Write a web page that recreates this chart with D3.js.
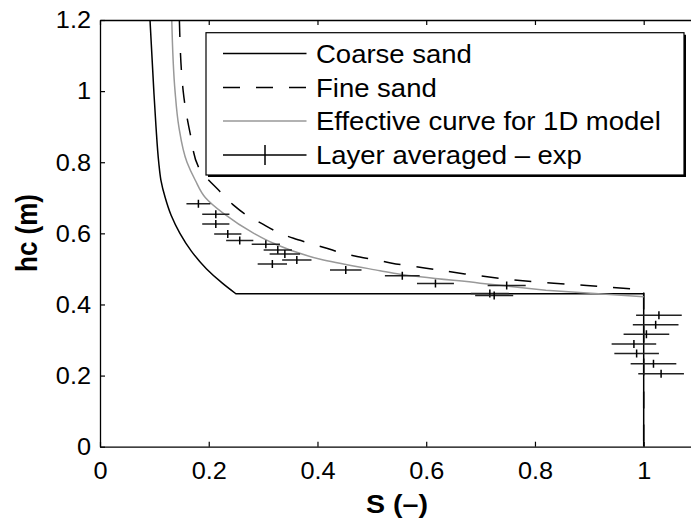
<!DOCTYPE html>
<html><head><meta charset="utf-8">
<script src="https://cdn.jsdelivr.net/npm/d3@7"></script>
<style>
html,body{margin:0;padding:0;background:#fff;}
svg{display:block;font-family:"Liberation Sans",Arial,Helvetica,sans-serif;}
</style></head>
<body><svg id="chart" width="691" height="521"></svg>
<script>
// ---- data ----
const coarseS  = [0.092,0.099,0.103,0.108,0.112,0.120,0.131,0.147,0.168,0.196,0.225,0.250,1.000,1.000];
const coarseHc = [1.20, 1.00, 0.90, 0.80, 0.75, 0.70, 0.65, 0.60, 0.55, 0.50, 0.46, 0.43, 0.43, 0.00];

const fineS  = [0.146,0.153,0.166,0.181,0.221,0.245,0.270,0.297,0.325,0.356,0.386,0.417,0.447,0.475,0.509,0.537,0.600,0.671,0.733,0.796,0.862,0.923,0.987,1.000,1.000];
const fineHc = [1.20, 1.00, 0.88, 0.787,0.717,0.680,0.651,0.628,0.605,0.586,0.572,0.558,0.544,0.534,0.525,0.516,0.502,0.486,0.474,0.464,0.457,0.450,0.443,0.440,0.000];

const effS  = [0.132,0.138,0.145,0.160,0.175,0.194,0.227,0.283,0.319,0.411,0.515,0.552,0.699,0.820,1.000];
const effHc = [1.20, 1.00, 0.90, 0.80, 0.75, 0.70, 0.656,0.600,0.572,0.525,0.495,0.485,0.460,0.440,0.422];

const expS   = [0.181,0.213,0.213,0.235,0.257,0.305,0.327,0.340,0.362,0.317,0.452,0.556,0.617,0.748,0.717,0.725,1.028,1.022,1.005,0.982,0.987,1.018,1.032];
const expHc  = [0.683,0.654,0.626,0.598,0.580,0.569,0.553,0.542,0.525,0.514,0.497,0.481,0.459,0.453,0.431,0.425,0.370,0.343,0.316,0.289,0.262,0.233,0.205];
const expErr = [0.022,0.025,0.025,0.025,0.025,0.026,0.026,0.028,0.027,0.027,0.029,0.032,0.034,0.035,0.035,0.035,0.042,0.042,0.042,0.041,0.041,0.042,0.042];

const xTicks = [0,0.2,0.4,0.6,0.8,1];
const xTickLabels = ["0","0.2","0.4","0.6","0.8","1"];
const yTicks = [0,0.2,0.4,0.6,0.8,1,1.2];
const yTickLabels = ["0","0.2","0.4","0.6","0.8","1","1.2"];
const legendLabels = ["Coarse sand","Fine sand","Effective curve for 1D model","Layer averaged \u2013 exp"];

// ---- layout ----
const L = 100, R = 691, T = 20, B = 446.7;
const SX = 1.1; // horizontal text stretch of the reference
const svg = d3.select("#chart");
const x = d3.scaleLinear().domain([0, (R - L) / 543.7]).range([L, R]);
const y = d3.scaleLinear().domain([0, 1.2]).range([B, T]);

svg.append("defs").append("clipPath").attr("id","clip")
  .append("rect").attr("x",L).attr("y",T).attr("width",R-L).attr("height",B-T);

const plot = svg.append("g").attr("clip-path","url(#clip)");
const smooth = d3.line().x(d => x(d[0])).y(d => y(d[1])).curve(d3.curveMonotoneY);
const straight = d3.line().x(d => x(d[0])).y(d => y(d[1]));

// draw a curve: smooth part while hc strictly decreases and S < 1, then straight segments
function drawCurve(S, H, color, dash) {
  const pts = S.map((s,i)=>[s,H[i]]);
  let k = pts.findIndex((p,i)=> i>0 && (p[1] >= pts[i-1][1] || p[0] >= 1));
  if (k < 0) k = pts.length;
  const curved = pts.slice(0, k);
  const rest = pts.slice(k - 1);
  const d = smooth(curved) + (rest.length > 1 ? straight(rest).replace(/^M[^L]*/, "") : "");
  const p = plot.append("path").attr("d", d).attr("fill","none").attr("stroke",color).attr("stroke-width",1.5);
  if (dash) p.attr("stroke-dasharray", dash);
}
drawCurve(coarseS, coarseHc, "#000", null);
drawCurve(fineS, fineHc, "#000", "17,16");
drawCurve(effS, effHc, "#999", null);

const eg = plot.append("g");
expS.forEach((s,i) => {
  eg.append("line").attr("x1",x(s-expErr[i])).attr("x2",x(s+expErr[i]))
    .attr("y1",y(expHc[i])).attr("y2",y(expHc[i]))
    .attr("stroke","#222").attr("stroke-width",1.5);
  eg.append("line").attr("x1",x(s)).attr("x2",x(s))
    .attr("y1",y(expHc[i])-4).attr("y2",y(expHc[i])+4)
    .attr("stroke","#000").attr("stroke-width",1.5);
});

// ---- axes ----
const fmtX = d => xTickLabels[xTicks.indexOf(d)];
const fmtY = d => yTickLabels[yTicks.indexOf(d)];
const ax = svg.append("g").attr("transform",`translate(0,${B})`)
  .call(d3.axisBottom(x).tickValues(xTicks).tickFormat(fmtX).tickSize(-5).tickSizeOuter(0).tickPadding(16));
const ay = svg.append("g").attr("transform",`translate(${L},0)`)
  .call(d3.axisLeft(y).tickValues(yTicks).tickFormat(fmtY).tickSize(-5).tickSizeOuter(0).tickPadding(9));
const at = svg.append("g").attr("transform",`translate(0,${T})`)
  .call(d3.axisTop(x).tickValues(xTicks).tickFormat("").tickSize(-5).tickSizeOuter(0));
[ax,ay,at].forEach(g => {
  g.selectAll("path.domain").attr("stroke","#000").attr("stroke-width",1.3);
  g.selectAll(".tick line").attr("stroke","#000").attr("stroke-width",1.2);
  g.selectAll("text").attr("fill","#000").attr("font-size","23px")
    .attr("font-family","'Liberation Sans',Arial,sans-serif")
    .attr("transform",`scale(${SX},1)`);
});
ay.selectAll("text").attr("dy","0.34em").attr("x",-9/SX);

// ---- titles ----
svg.append("text").attr("transform",`translate(397,513) scale(${SX},1)`)
  .attr("text-anchor","middle").attr("font-size","26px").attr("font-weight","bold").text("S (\u2013)");
svg.append("text").attr("transform",`translate(37,233) scale(${SX},1) rotate(-90)`)
  .attr("text-anchor","middle").attr("font-size","26px").attr("font-weight","bold").text("hc (m)");

// ---- legend ----
const lg = svg.append("g");
const lx0 = 206, ly0 = 32.7, lx1 = 684, ly1 = 175;
lg.append("rect").attr("x",lx0).attr("y",ly0).attr("width",lx1-lx0).attr("height",ly1-ly0)
  .attr("fill","#fff").attr("stroke","#000").attr("stroke-width",1.2);
lg.append("line").attr("x1",lx1+1).attr("x2",lx1+1).attr("y1",ly0+2).attr("y2",ly1+1.5)
  .attr("stroke","#000").attr("stroke-width",2);
lg.append("line").attr("x1",lx0+2).attr("x2",lx1+2).attr("y1",ly1+1).attr("y2",ly1+1)
  .attr("stroke","#000").attr("stroke-width",2);
const rowY = [53.5, 87.5, 121, 155];
const styles = [
  {c:"#000", d:null}, {c:"#000", d:"17,16"}, {c:"#999", d:null}, {c:"#000", d:null, err:true}
];
legendLabels.forEach((t,i) => {
  const ln = lg.append("line").attr("x1",223).attr("x2",306.5).attr("y1",rowY[i]).attr("y2",rowY[i])
    .attr("stroke",styles[i].c).attr("stroke-width",1.5);
  if (styles[i].d) ln.attr("stroke-dasharray",styles[i].d).attr("stroke-dashoffset",0);
  if (styles[i].err) lg.append("line").attr("x1",265).attr("x2",265).attr("y1",rowY[i]-10).attr("y2",rowY[i]+10)
    .attr("stroke","#000").attr("stroke-width",1.5);
  lg.append("text").attr("transform",`translate(316,${rowY[i]}) scale(${SX},1)`)
    .attr("dy","0.36em").attr("font-size","25px").attr("fill","#000").text(t);
});
</script></body></html>
